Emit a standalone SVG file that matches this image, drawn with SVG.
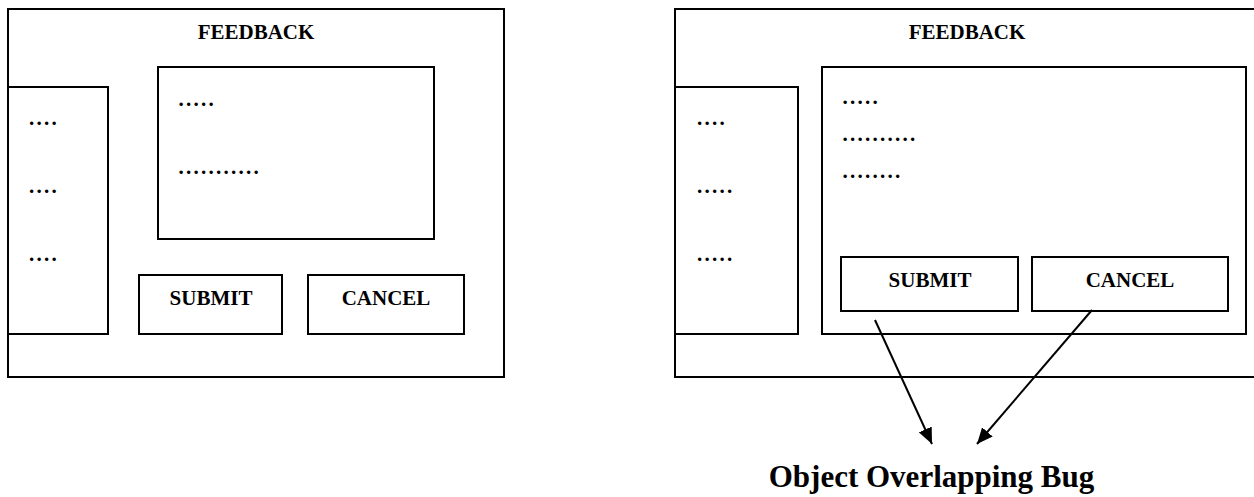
<svg xmlns="http://www.w3.org/2000/svg" width="1254" height="497" viewBox="0 0 1254 497">
<style>
.box{fill:none;stroke:#000;stroke-width:2}
.t{font-family:"Liberation Serif","Times New Roman",serif;font-weight:bold;font-size:21px;fill:#000;text-anchor:middle}
.d{font-family:"Liberation Serif","Times New Roman",serif;font-weight:bold;font-size:21px;fill:#000;letter-spacing:2.25px}
.big{font-family:"Liberation Serif","Times New Roman",serif;font-weight:bold;font-size:31px;fill:#000;text-anchor:middle}
.conn{stroke:#000;stroke-width:2;fill:none}
</style>
<defs>
<marker id="ah" markerUnits="userSpaceOnUse" markerWidth="16" markerHeight="14" refX="16" refY="7" orient="auto" viewBox="0 0 16 14">
<path d="M0,0 L16,7 L0,14 z" fill="#000"/>
</marker>
</defs>
<rect width="1254" height="497" fill="#fff"/>

<g id="left-window">
<rect class="box" x="8" y="9" width="496" height="368"/>
<text class="t" x="256" y="39">FEEDBACK</text>
</g>
<g id="left-sidebar">
<rect class="box" x="8" y="87" width="100" height="247"/>
<text class="d" x="29" y="124.5">....</text>
<text class="d" x="29" y="192.5">....</text>
<text class="d" x="29" y="260.5">....</text>
</g>
<g id="left-content">
<rect class="box" x="158" y="67" width="276" height="172"/>
<text class="d" x="178.5" y="105.5">.....</text>
<text class="d" x="178.5" y="173.5">...........</text>
</g>
<g id="left-submit">
<rect class="box" x="139" y="275" width="143" height="59"/>
<text class="t" x="211" y="305">SUBMIT</text>
</g>
<g id="left-cancel">
<rect class="box" x="308" y="275" width="156" height="59"/>
<text class="t" x="386" y="305">CANCEL</text>
</g>

<g id="right-window">
<rect class="box" x="675" y="9" width="600" height="368"/>
<text class="t" x="967" y="39">FEEDBACK</text>
</g>
<g id="right-sidebar">
<rect class="box" x="675" y="87" width="123" height="247"/>
<text class="d" x="697" y="124.5">....</text>
<text class="d" x="697" y="192.5">.....</text>
<text class="d" x="697" y="261">.....</text>
</g>
<g id="right-content">
<rect class="box" x="822" y="67" width="424" height="267"/>
<text class="d" x="842.5" y="103.5">.....</text>
<text class="d" x="842.5" y="141">..........</text>
<text class="d" x="842.5" y="177.5">........</text>
</g>
<g id="right-submit">
<rect class="box" x="841" y="257" width="177" height="54"/>
<text class="t" x="930" y="287">SUBMIT</text>
</g>
<g id="right-cancel">
<rect class="box" x="1032" y="257" width="196" height="54"/>
<text class="t" x="1130" y="287">CANCEL</text>
</g>

<g id="connectors">
<line class="conn" x1="875" y1="320" x2="932" y2="444" marker-end="url(#ah)"/>
<line class="conn" x1="1092" y1="310" x2="977" y2="444" marker-end="url(#ah)"/>
</g>

<g id="bug-label">
<text class="big" x="931.5" y="487">Object Overlapping Bug</text>
</g>
</svg>
